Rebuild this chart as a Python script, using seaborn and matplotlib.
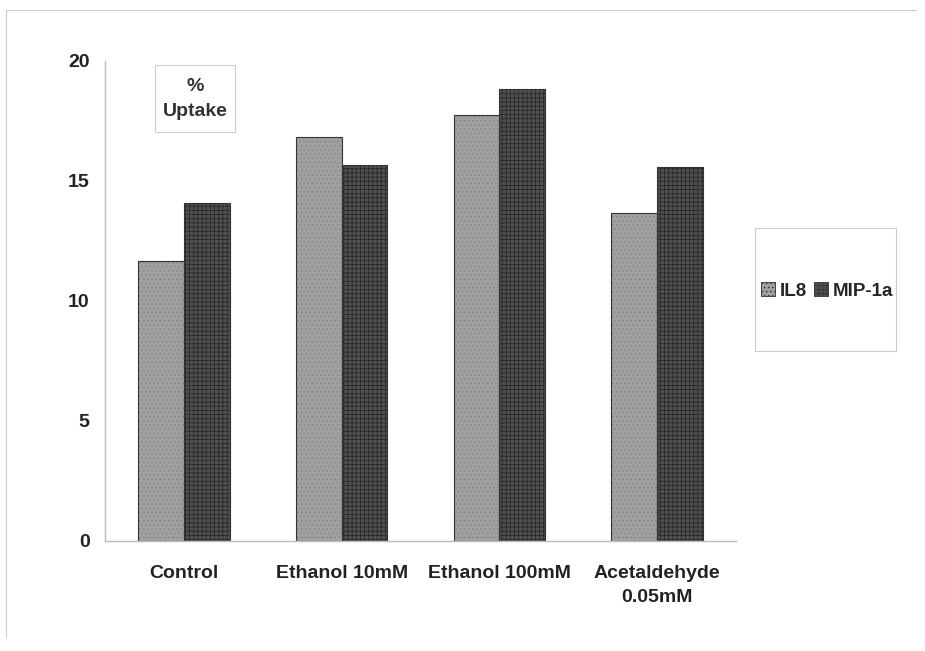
import pandas as pd
import matplotlib
matplotlib.use("Agg")
import matplotlib.pyplot as plt
import seaborn as sns
from matplotlib.patches import Rectangle
from matplotlib.lines import Line2D

# Data
groups = ["Control", "Ethanol 10mM", "Ethanol 100mM", "Acetaldehyde\n0.05mM"]
il8 = [11.65, 16.85, 17.75, 13.65]
mip1a = [14.1, 15.65, 18.85, 15.6]
series = ["IL8", "MIP-1a"]

df = pd.DataFrame({
    "group": groups * 2,
    "uptake": il8 + mip1a,
    "series": [series[0]] * len(groups) + [series[1]] * len(groups),
})

sns.set_style("white")
plt.rcParams["font.family"] = ["Liberation Sans", "DejaVu Sans"]
plt.rcParams["font.weight"] = "bold"
plt.rcParams["hatch.linewidth"] = 0.6

fig = plt.figure(figsize=(9.25, 6.51), dpi=100)
ax = fig.add_axes([0.1135, 0.169, 0.6822, 0.7373])

palette = {"IL8": "#a0a0a0", "MIP-1a": "#505050"}
sns.barplot(data=df, x="group", y="uptake", hue="series", order=groups,
            hue_order=series, palette=palette, width=0.58, saturation=1,
            edgecolor="#333333", linewidth=0.8, ax=ax, legend=False)

# texture similar to the scanned fill patterns
for cont, hatch, hc in zip(ax.containers, ["....", "++++"], ["#858585", "#2a2a2a"]):
    for bar in cont:
        bar.set_hatch(hatch)
        bar._hatch_color = matplotlib.colors.to_rgba(hc)

ax.set_ylim(0, 20)
ax.set_xlim(-0.5, 3.5)
ax.set_yticks([0, 5, 10, 15, 20])
ax.set_xticks([-0.5, 0.5, 1.5, 2.5, 3.5])
ax.set_xticklabels([])
ax.set_xticks(range(len(groups)), minor=True)
ax.set_xticklabels(groups, minor=True, fontsize=14, fontweight="bold",
                   color="#222222", linespacing=1.55)
ax.tick_params(axis="x", which="minor", length=0, pad=17)
ax.tick_params(axis="x", which="major", length=5, color="#bbbbbb", direction="out")
ax.tick_params(axis="y", length=4, color="#bbbbbb", direction="out", pad=7,
               labelsize=14, labelcolor="#222222")
for lab in ax.get_yticklabels():
    lab.set_fontweight("bold")
ax.set_xlabel("")
ax.set_ylabel("")

for side in ["top", "right"]:
    ax.spines[side].set_visible(False)
for side in ["left", "bottom"]:
    ax.spines[side].set_color("#bbbbbb")
    ax.spines[side].set_linewidth(1.0)

# "% Uptake" box
fig.patches.append(Rectangle((155 / 925, 1 - 132 / 651), 80 / 925, 67 / 651,
                             transform=fig.transFigure, fill=False,
                             edgecolor="#cccccc", linewidth=0.8))
fig.text(195 / 925, 1 - 99 / 651, "%\nUptake", ha="center", va="center",
         fontsize=14, fontweight="bold", color="#333333", linespacing=1.55)

# legend box
fig.patches.append(Rectangle((755 / 925, 1 - 351 / 651), 141 / 925, 123 / 651,
                             transform=fig.transFigure, fill=False,
                             edgecolor="#cccccc", linewidth=0.8))
handles = [Rectangle((0, 0), 1, 1, facecolor=palette[s], edgecolor="#333333",
                     hatch=h, linewidth=0.6) for s, h in zip(series, ["....", "++++"])]
fig.legend(handles, series, loc="center", bbox_to_anchor=(827 / 925, 1 - 291 / 651),
           ncol=2, frameon=False, handlelength=0.75, handleheight=0.75,
           handletextpad=0.25, columnspacing=0.35, borderpad=0,
           prop={"weight": "bold", "size": 13.5})

# outer chart frame (top and left visible in the scan)
fig.add_artist(Line2D([6 / 925, 6 / 925], [1 - 10 / 651, 0.02], transform=fig.transFigure,
                      color="#cccccc", linewidth=0.8))
fig.add_artist(Line2D([6 / 925, 0.99], [1 - 10 / 651, 1 - 10 / 651], transform=fig.transFigure,
                      color="#cccccc", linewidth=0.8))

fig.savefig("out.png", dpi=100)
